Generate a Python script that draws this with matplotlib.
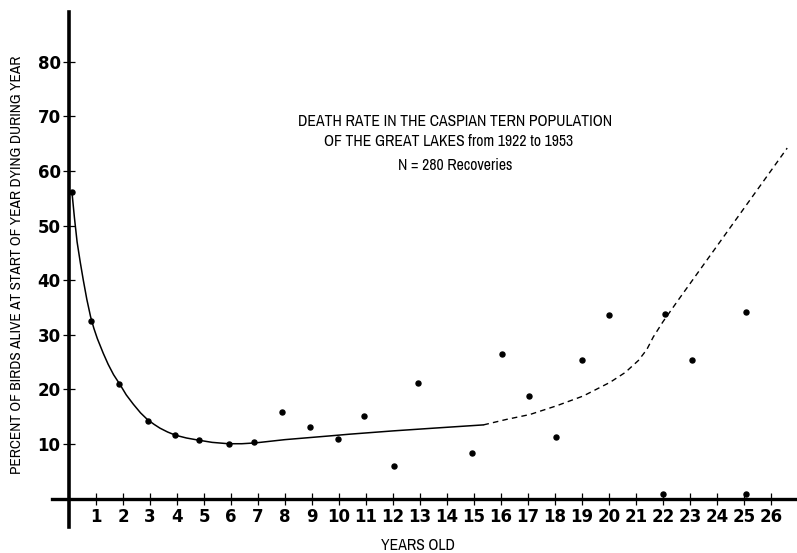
import matplotlib
matplotlib.use("Agg")
import matplotlib.pyplot as plt
from matplotlib import font_manager

# pick a condensed sans face if one is installed
cond_family, cond_stretch, cond_scale = "DejaVu Sans", "normal", 0.85
cands = []
for f in font_manager.fontManager.ttflist:
    st = str(f.stretch)
    if ("Narrow" in f.name or "Condensed" in f.name or st in ("condensed", "semi-condensed", "extra-condensed")
            or (st.isdigit() and int(st) < 500)):
        cands.append(f)
if cands:
    pref = sorted(cands, key=lambda f: (0 if "Narrow" in f.name else 1 if "Condensed" in f.name else 2,
                                        f.weight if isinstance(f.weight, int) else 400))
    cond_family = pref[0].name
    cond_stretch = pref[0].stretch
    cond_scale = 1.0

# ---- data ----
ages = [0.11, 0.8, 1.86, 2.93, 3.94, 4.8, 5.91, 6.87, 7.9, 8.94, 9.98, 10.94, 12.02,
        12.91, 14.93, 16.04, 17.05, 18.03, 19.0, 20.01, 22.06, 23.06, 25.08, 22.0, 25.07]
death_rate = [56.1, 32.5, 20.9, 14.3, 11.7, 10.7, 10.0, 10.3, 15.9, 13.1, 10.9, 15.2, 6.0,
              21.2, 8.3, 26.5, 18.7, 11.2, 25.3, 33.7, 33.9, 25.4, 34.1, 0.8, 0.8]

fit_x = [0.11, 0.2, 0.3, 0.42, 0.53, 0.66, 0.8, 0.92, 1.05, 1.27, 1.45, 1.65, 1.9, 2.12,
         2.38, 2.65, 2.9, 3.15, 3.37, 3.65, 3.95, 4.35, 4.8, 5.3, 5.9, 6.4, 6.9, 8.0,
         9.7, 10.4, 12.0, 13.5, 15.35]
fit_y = [56.1, 51.5, 47.0, 43.2, 40.0, 36.5, 33.3, 31.2, 29.3, 26.6, 24.6, 22.7, 20.8, 19.0,
         17.3, 15.7, 14.5, 13.6, 12.9, 12.2, 11.6, 11.1, 10.7, 10.3, 10.05, 10.05, 10.2, 10.8,
         11.5, 11.8, 12.4, 12.9, 13.5]

ext_x = [15.35, 16.2, 17.07, 18.06, 19.05, 20.04, 20.6, 21.09, 21.4, 21.64, 22.0, 22.57, 26.6]
ext_y = [13.5, 14.5, 15.4, 17.0, 18.8, 21.3, 23.1, 25.3, 27.3, 29.6, 32.4, 36.4, 64.2]

xticks = list(range(1, 27))
yticks = [10, 20, 30, 40, 50, 60, 70, 80]

fig = plt.figure(figsize=(7.97, 5.53), dpi=100)
ax = fig.add_axes([0, 0, 1, 1])
ax.set_xlim(-69 / 27, (797 - 69) / 27)
ax.set_ylim(-(553 - 498.6) / 5.46, 498.6 / 5.46)

for s in ["top", "right"]:
    ax.spines[s].set_visible(False)
ax.spines["left"].set_position(("data", 0))
ax.spines["bottom"].set_position(("data", 0))
ax.spines["left"].set_bounds(-5.2, 89.1)
ax.spines["bottom"].set_bounds(-0.63, 27)
ax.spines["left"].set_linewidth(2.6)
ax.spines["bottom"].set_linewidth(2.4)

ax.set_xticks(xticks)
ax.set_xticklabels([str(t) for t in xticks])
ax.set_yticks(yticks)
ax.set_yticklabels([str(t) for t in yticks])
ax.tick_params(axis="both", direction="inout", length=8, width=0.9, color="black")
ax.tick_params(axis="x", pad=3)
ax.tick_params(axis="y", pad=2)
for lab in ax.get_xticklabels() + ax.get_yticklabels():
    lab.set_fontweight("bold")
    lab.set_fontsize(12)

ax.plot(fit_x, fit_y, color="black", lw=1.1, solid_capstyle="round", solid_joinstyle="round")
ax.plot(ext_x, ext_y, color="black", lw=1.0, linestyle=(0, (4, 3)))
ax.plot(ages, death_rate, "o", color="black", markersize=3.6, linestyle="none")

fs = 11.3 * cond_scale
kw = dict(family=cond_family, stretch=cond_stretch, fontsize=fs)
fig.text(17 / 797, 1 - 265 / 553, "PERCENT OF BIRDS ALIVE AT START OF YEAR DYING DURING YEAR",
         rotation=90, ha="center", va="center", family=cond_family, stretch=cond_stretch,
         fontsize=11 * cond_scale)
fig.text(418 / 797, 1 - 545 / 553, "YEARS OLD", ha="center", va="center", **kw)
fig.text(455 / 797, 1 - 122 / 553, "DEATH RATE IN THE CASPIAN TERN POPULATION",
         ha="center", va="center", **kw)
fig.text(449 / 797, 1 - 141 / 553, "OF THE GREAT LAKES from 1922 to 1953",
         ha="center", va="center", **kw)
fig.text(455 / 797, 1 - 166 / 553, "N = 280 Recoveries", ha="center", va="center", **kw)

fig.savefig("out.png", dpi=100, facecolor="white")
